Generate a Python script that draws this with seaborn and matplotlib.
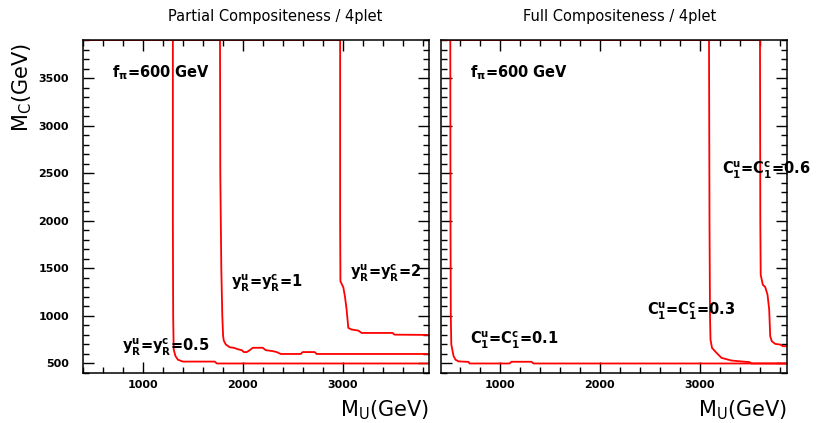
import matplotlib
matplotlib.use("Agg")
import matplotlib.pyplot as plt
from matplotlib.ticker import MultipleLocator
import seaborn as sns

# Partial Compositeness / 4plet : exclusion contours (M_U, M_C) in GeV
pc05_x = [400, 1300, 1300, 1303, 1308, 1325, 1350, 1400, 1720, 1740, 3870]
pc05_y = [3900, 3900, 2000, 1000, 650, 580, 540, 520, 520, 500, 500]

pc1_x = [400, 1772, 1775, 1785, 1795, 1803, 1810, 1830, 1870, 1910, 1950, 1990,
         2010, 2040, 2070, 2100, 2200, 2230, 2300, 2340, 2380, 2580, 2600, 2720,
         2740, 3870]
pc1_y = [3900, 3900, 2500, 1500, 1000, 790, 740, 700, 670, 665, 650, 640,
         620, 620, 640, 665, 665, 640, 630, 620, 600, 600, 620, 620,
         600, 600]

pc2_x = [400, 2975, 2975, 2978, 3007, 3023, 3040, 3057, 3090, 3157, 3190, 3500,
         3520, 3870]
pc2_y = [3900, 3900, 2000, 1365, 1300, 1206, 1066, 874, 857, 846, 821, 821,
         803, 800]

# Full Compositeness / 4plet
fc01_x = [415, 508, 510, 513, 518, 540, 560, 590, 690, 700, 1100, 1120, 1320,
          1340, 3875]
fc01_y = [3900, 3900, 2000, 1000, 700, 580, 540, 522, 517, 500, 500, 518, 518,
          500, 500]

fc03_x = [415, 3095, 3100, 3105, 3110, 3125, 3170, 3220, 3320, 3500, 3520, 3875]
fc03_y = [3900, 3900, 2000, 1000, 750, 664, 612, 559, 531, 514, 500, 500]

fc06_x = [415, 3605, 3608, 3612, 3633, 3657, 3680, 3697, 3707, 3723, 3757,
          3807, 3833, 3875]
fc06_y = [3900, 3900, 2000, 1433, 1328, 1304, 1224, 1066, 787, 734, 706,
          699, 682, 682]

sns.set_theme(style="ticks")
plt.rcParams["font.family"] = ["DejaVu Sans"]
plt.rcParams["mathtext.fontset"] = "dejavusans"
plt.rcParams["mathtext.default"] = "bf"
for key in ["text.color", "axes.labelcolor", "xtick.color", "ytick.color",
            "axes.edgecolor"]:
    plt.rcParams[key] = "black"

fig = plt.figure(figsize=(8.17, 4.23), dpi=100)
ax1 = fig.add_axes([83 / 817, 1 - 373 / 423, 346 / 817, 333 / 423])
ax2 = fig.add_axes([441 / 817, 1 - 373 / 423, 346 / 817, 333 / 423])


def style_axis(ax, xlim, show_ylabels):
    ax.set_xlim(*xlim)
    ax.set_ylim(400, 3900)
    ax.xaxis.set_major_locator(MultipleLocator(1000))
    ax.xaxis.set_minor_locator(MultipleLocator(200))
    ax.yaxis.set_major_locator(MultipleLocator(500))
    ax.yaxis.set_minor_locator(MultipleLocator(100))
    ax.tick_params(which="both", direction="in", top=True, right=True,
                   color="black", labelcolor="black", width=1.0)
    ax.tick_params(which="major", length=8, labelsize=8)
    ax.tick_params(axis="x", which="major", pad=5)
    ax.tick_params(axis="y", which="major", pad=10)
    ax.tick_params(which="minor", length=4)
    ax.tick_params(axis="y", labelleft=show_ylabels)
    for lbl in ax.get_xticklabels() + ax.get_yticklabels():
        lbl.set_fontweight("bold")
    for sp in ax.spines.values():
        sp.set_linewidth(1.1)
        sp.set_color("black")
    ax.set_xlabel("")
    ax.set_ylabel("")


for xs, ys in [(pc05_x, pc05_y), (pc1_x, pc1_y), (pc2_x, pc2_y)]:
    sns.lineplot(x=xs, y=ys, sort=False, estimator=None, color="red",
                 linewidth=1.3, ax=ax1)
for xs, ys in [(fc01_x, fc01_y), (fc03_x, fc03_y), (fc06_x, fc06_y)]:
    sns.lineplot(x=xs, y=ys, sort=False, estimator=None, color="red",
                 linewidth=1.3, ax=ax2)

style_axis(ax1, (400, 3865), True)
style_axis(ax2, (415, 3875), False)

# annotations
tkw = dict(fontsize=10.5, fontweight="bold", va="center", ha="left",
           color="black")
fig.text(112 / 817, 1 - 73 / 423, r"$f_\pi$=600 GeV", **tkw)
fig.text(470 / 817, 1 - 73 / 423, r"$f_\pi$=600 GeV", **tkw)
fig.text(122 / 817, 1 - 347 / 423, r"$y_R^u$=$y_R^c$=0.5", **tkw)
fig.text(231 / 817, 1 - 283 / 423, r"$y_R^u$=$y_R^c$=1", **tkw)
fig.text(350 / 817, 1 - 273 / 423, r"$y_R^u$=$y_R^c$=2", **tkw)
fig.text(470 / 817, 1 - 340 / 423, r"$C_1^u$=$C_1^c$=0.1", **tkw)
fig.text(647 / 817, 1 - 311 / 423, r"$C_1^u$=$C_1^c$=0.3", **tkw)
fig.text(722 / 817, 1 - 170 / 423, r"$C_1^u$=$C_1^c$=0.6", **tkw)

# titles
fig.text(275 / 817, 1 - 16 / 423, "Partial Compositeness / 4plet",
         fontsize=10.5, ha="center", va="center", color="black")
fig.text(620 / 817, 1 - 16 / 423, "Full Compositeness / 4plet",
         fontsize=10.5, ha="center", va="center", color="black")

# axis titles
fig.text(429 / 817, 1 - 410 / 423, r"M$_\mathrm{U}$(GeV)", fontsize=15,
         ha="right", va="center", color="black")
fig.text(787 / 817, 1 - 410 / 423, r"M$_\mathrm{U}$(GeV)", fontsize=15,
         ha="right", va="center", color="black")
fig.text(22 / 817, 1 - 88 / 423, r"M$_\mathrm{C}$(GeV)", fontsize=15,
         ha="center", va="center", rotation=90, color="black")

fig.savefig("out.png", dpi=100, facecolor="white")
